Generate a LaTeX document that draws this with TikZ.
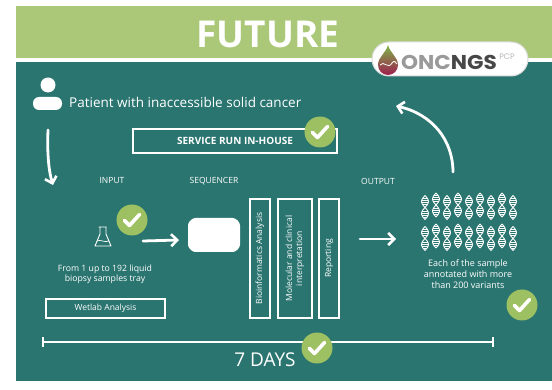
\documentclass[tikz,border=0pt]{standalone}
\usepackage{fontspec}
\setmainfont{Open Sans}
\newfontfamily\logofont{Poppins}
\usetikzlibrary{arrows.meta}

\definecolor{headgreen}{HTML}{ABC878}
\definecolor{bandteal}{HTML}{2A7570}
\definecolor{okgreen}{HTML}{9DC062}
\definecolor{logogrey}{HTML}{9A9A9A}
\definecolor{logodark}{HTML}{474747}
\definecolor{dropgreen}{HTML}{7DB548}
\definecolor{dropred}{HTML}{9E1E4E}

\tikzset{
  fs/.style={font=\fontsize{#1}{\dimexpr#1pt*13/10\relax}\selectfont},
  bfs/.style={font=\fontsize{#1}{\dimexpr#1pt*13/10\relax}\selectfont\bfseries},
  lfs/.style={font=\logofont\fontsize{#1}{\dimexpr#1pt*13/10\relax}\selectfont\bfseries},
  wtext/.style={text=white, inner sep=0pt, align=center},
  wframe/.style={draw=white, line width=2.2pt, text=white, inner sep=0pt, align=center},
  vframe/.style={wframe, line width=2pt, rotate=90, minimum height=20pt, minimum width=119pt},
  handarrow/.style={draw=white, line width=2.8pt, line cap=round,
    -{Straight Barb[length=6pt,width=12pt,line width=2.6pt]}},
  okmark/.pic={
    \fill[okgreen] (0,0) circle (15.5);
    \draw[white, line width=3.6pt, line cap=round, line join=round]
      (-7.5,0.5) -- (-2.5,5.5) -- (7.5,-5.5);
  },
  helix/.pic={
    \draw[white, line width=0.9pt] plot[domain=-12:12, samples=31, smooth]
      ({3.4*sin(15*\x)}, {\x});
    \draw[white, line width=0.9pt] plot[domain=-12:12, samples=31, smooth]
      ({-3.4*sin(15*\x)}, {\x});
    \foreach \r in {-9.5,-7.5,-5.5,-3.5,3.5,5.5,7.5,9.5}
      \draw[white, line width=0.5pt]
        ({-3.4*abs(sin(15*\r))}, \r) -- ({3.4*abs(sin(15*\r))}, \r);
  }
}

\begin{document}
\begin{tikzpicture}[x=1pt, y=-1pt]
  % page and bands
  \fill[white] (0,0) rectangle (552,390);
  \useasboundingbox (0,0) rectangle (552,390);
  \fill[headgreen] (16,6) rectangle (552,58);
  \fill[bandteal] (16,62) rectangle (552,381);

  % title
  \node[wtext, bfs=37] (title) at (268,34) {FUTURE};

  % logo pill
  \node[draw=black!15, fill=white, line width=1pt, rounded corners=17pt,
        minimum width=156pt, minimum height=34pt, inner sep=0pt] (logo) at (450,59) {};
  \shade[top color=dropgreen, bottom color=dropred]
    (388,45) .. controls (390,53) and (398,57) .. (398,65)
    arc[start angle=0, end angle=180, radius=10]
    .. controls (378,57) and (386,53) .. (388,45) -- cycle;
  \draw[white, line width=0.8pt] (380,65) .. controls (384,60) and (388,70) .. (392,63)
    .. controls (394,60) and (396,62) .. (397,64);
  \node[anchor=west, inner sep=0pt, lfs=20, xscale=1.08, transform shape] (brand) at (401,62)
    {\textcolor{logogrey}{ONC}\textcolor{logodark}{NGS}};
  \node[anchor=south west, inner sep=0pt, font=\logofont\fontsize{8}{9}\selectfont,
        text=black!28] (pcp) at ([xshift=2pt, yshift=-5pt]brand.north east) {PCP};

  % patient
  \fill[white] (48,85) circle (7.5);
  \fill[white, rounded corners=6pt] (33,110) -- (33,97) -- (62,97) -- (62,110) -- cycle;
  \node[wtext, anchor=west, fs=13.5] (patient) at (69,102)
    {Patient with inaccessible solid cancer};
  \coordinate (downstart) at (48,130);
  \coordinate (downend) at (53,185);
  \draw[handarrow] (downstart) .. controls (47,155) and (49,172) .. (downend);

  % in-house service
  \node[wframe, bfs=10, minimum width=204pt, minimum height=24pt]
    (service) at (235,141) {SERVICE RUN IN-HOUSE};
  \pic at (320,132) {okmark};

  % column headings
  \node[wtext, fs=8.5] (input) at (112,181) {INPUT};
  \node[wtext, fs=8.5] (sequencer) at (214,181) {SEQUENCER};
  \node[wtext, fs=8.5] (output) at (378,181) {OUTPUT};

  % sample flask
  \coordinate (flask) at (103,237);
  \draw[white, line width=0.9pt, line join=round]
    (98.5,227) -- (106.5,227)
    (100,227) -- (100,234) -- (95,246) -- (111,246) -- (106,234) -- (106,227);
  \draw[white, line width=0.7pt] (97,241) .. controls (100,239) and (105,243) .. (109,241);
  \pic at (132,220) {okmark};
  \node[wtext, fs=8.7] (samples) at (105,274)
    {From 1 up to 192 liquid\\[-1pt]biopsy samples tray};
  \node[wframe, line width=2pt, fs=8.5, minimum width=119pt, minimum height=19pt]
    (wetlab) at (105.5,308.5) {Wetlab Analysis};

  % sequencer
  \fill[white, rounded corners=2.5pt] (193,218) -- (235,218) -- (240,223) -- (240,247)
    -- (235,252) -- (193,252) -- (188,247) -- (188,223) -- cycle;
  \coordinate (seqin) at (179,240);
  \coordinate (flaskout) at (143,241);
  \draw[handarrow] (flaskout) -- (seqin);

  % analysis steps
  \node[vframe, fs=8.5] (bioinf) at (260,258.5) {Bioinformatics Analysis};
  \node[vframe, fs=8.5, minimum height=34pt] (interp) at (295,258.5)
    {Molecular and clinical\\[-1pt]interpretation};
  \node[vframe, fs=8.5] (report) at (329,258.5) {Reporting};
  \coordinate (outstart) at (360,239);
  \coordinate (outend) at (396,239);
  \draw[handarrow] (outstart) -- (outend);

  % variants
  \foreach \i in {0,...,8} {
    \pgfmathsetmacro{\cx}{425+11*\i}
    \pgfmathsetmacro{\dy}{ifthenelse(mod(\i,2)==0,1.5,-1)}
    \pic at (\cx,206+\dy) {helix};
    \pic at (\cx,237+\dy) {helix};
  }
  \node[wtext, fs=9] (variants) at (468,274)
    {Each of the sample\\[-0.5pt]annotated with more\\[-0.5pt]than 200 variants};
  \pic at (522,305) {okmark};

  % return arrow
  \coordinate (backstart) at (453,172);
  \coordinate (backend) at (396,106);
  \draw[handarrow] (backstart) .. controls (453,140) and (432,114) .. (backend);

  % timeline
  \coordinate (tl) at (43,342);
  \coordinate (tr) at (493,342);
  \draw[white, line width=1.6pt] (tl) -- (tr);
  \draw[white, line width=1.6pt] ([yshift=-4.5pt]tl) -- ([yshift=4.5pt]tl);
  \draw[white, line width=1.6pt] ([yshift=-4.5pt]tr) -- ([yshift=4.5pt]tr);
  \node[wtext, fs=19] (days) at (265,360) {7 DAYS};
  \pic at (317,348) {okmark};
\end{tikzpicture}
\end{document}
